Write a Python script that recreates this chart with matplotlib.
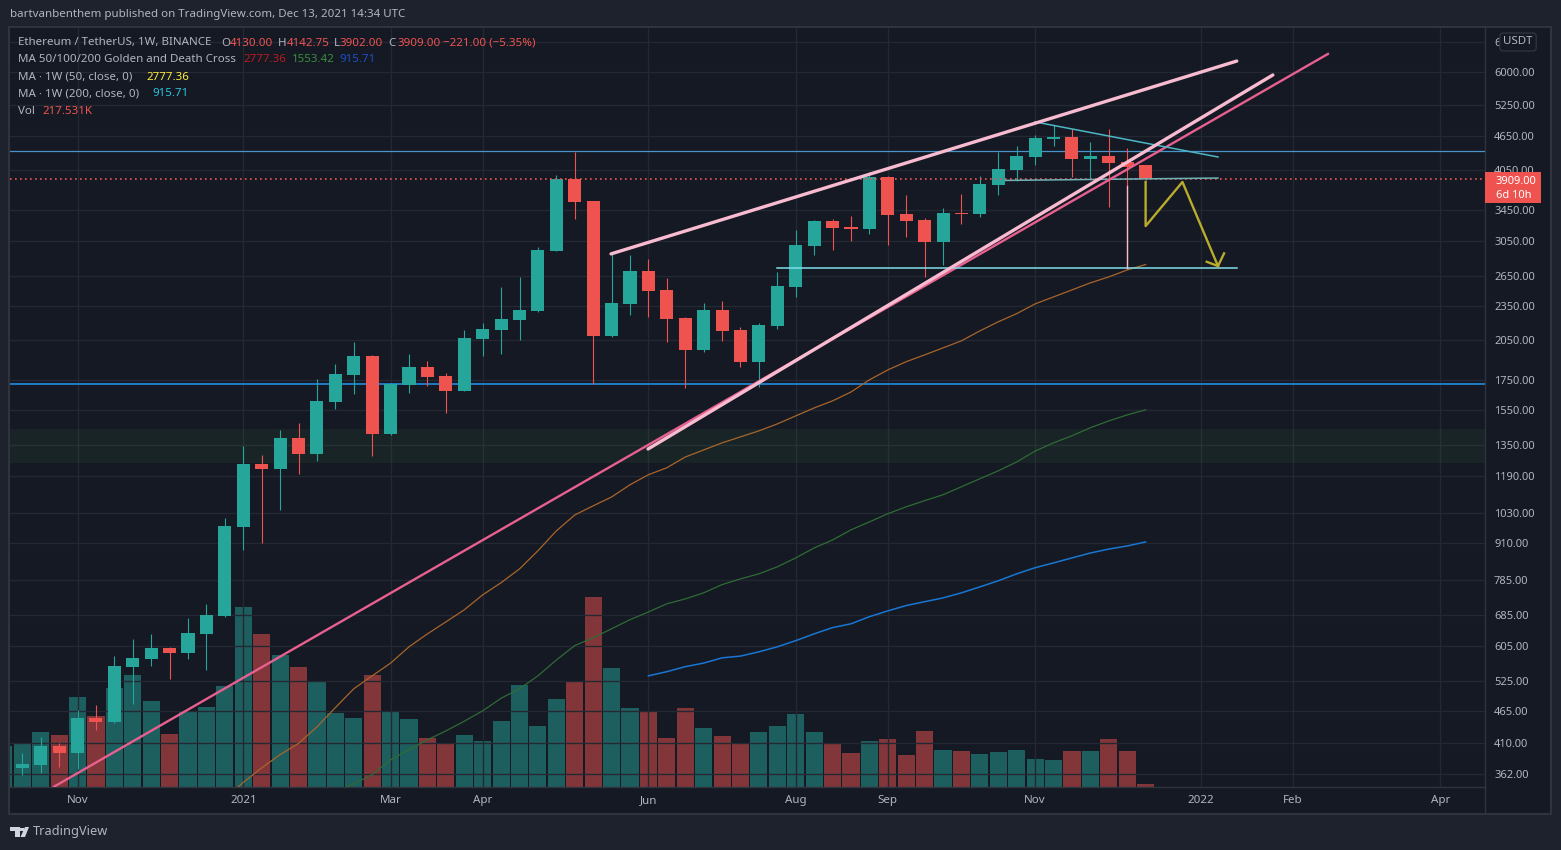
import numpy as np
import matplotlib
matplotlib.use("Agg")
import matplotlib.pyplot as plt
from matplotlib.patches import Rectangle, Polygon
from matplotlib.lines import Line2D

W, H = 1561, 850
FONT = "Noto Sans"
plt.rcParams["font.family"] = [FONT, "DejaVu Sans"]

BG_OUT = "#1e222d"
BG = "#151924"
GRID = "#242833"
EDGE = "#2f333e"
TXT = "#b2b5be"
UP = "#26a69a"
DOWN = "#ef5350"

# weekly candles, index 0 = first full candle on screen
opens = [371, 375, 405, 394, 453, 446, 556, 574, 600, 588, 634, 681, 972, 1251, 1227, 1388,
         1302, 1604, 1786, 1927, 1411, 1716, 1844, 1780, 1675, 2063, 2138, 2226, 2307, 2933,
         3912, 3581, 2089, 2373, 2707, 2509, 2244, 1974, 2316, 2138, 1883, 2173, 2539, 2993,
         3307, 3228, 3203, 3943, 3400, 3320, 3040, 3414, 3400, 3821, 4055, 4271, 4590, 4627,
         4237, 4288, 4188, 4130]
highs = [394, 420, 410, 468, 477, 580, 621, 634, 602, 676, 715, 1008, 1344, 1297, 1434, 1474,
         1758, 1867, 2039, 1935, 1730, 1943, 1889, 1800, 2138, 2200, 2539, 2643, 2980, 3975,
         4356, 3581, 2910, 2887, 2840, 2633, 2252, 2382, 2401, 2164, 2200, 2696, 3190, 3320,
         3333, 3373, 4023, 3959, 3670, 3347, 3483, 3684, 3959, 4356, 4464, 4664, 4855, 4777,
         4535, 4777, 4428, 4142.75]
lows = [361, 364, 372, 369, 432, 444, 479, 558, 530, 574, 549, 679, 887, 912, 1041, 1202,
        1266, 1559, 1656, 1291, 1405, 1662, 1709, 1535, 1675, 1927, 1943, 2055, 2298, 2933,
        3333, 1723, 2081, 2270, 2252, 2039, 1696, 1958, 2047, 1844, 1702, 2147, 2440, 2887,
        2945, 3053, 3139, 3005, 3102, 2643, 2773, 3268, 3360, 3670, 3880, 4137, 4464, 3943,
        3896, 3496, 2740, 3902]
closes = [377, 405, 394, 453, 446, 558, 576, 600, 588, 636, 684, 977, 1251, 1227, 1388, 1302,
          1610, 1793, 1927, 1411, 1723, 1844, 1773, 1675, 2071, 2147, 2235, 2316, 2945, 3912,
          3567, 2089, 2382, 2707, 2499, 2235, 1974, 2316, 2130, 1883, 2181, 2550, 3005, 3307,
          3215, 3203, 3943, 3387, 3307, 3040, 3414, 3400, 3836, 4071, 4288, 4608, 4627, 4237,
          4288, 4170, 4104, 3909]

# volume in thousands, first bar is the clipped one left of candle 0
vol_weeks = list(range(-1, 62))
volumes = [2952, 3096, 3960, 3744, 6480, 5112, 7128, 8064, 6192, 3816, 5400, 5760, 7272, 12960,
           11016, 9504, 8640, 7632, 5328, 4968, 8064, 5400, 4896, 3528, 3096, 3744, 3312, 4752,
           7344, 4392, 6336, 7560, 13680, 8568, 5688, 5400, 3528, 5688, 4248, 3672, 3168, 3960,
           4392, 5256, 3960, 3168, 2448, 3312, 3456, 2304, 4032, 2664, 2592, 2376, 2520, 2664,
           2016, 1944, 2592, 2592, 3456, 2592, 217.531]

ma50_weeks = list(range(11, 62))
ma50 = [328, 350, 371, 391, 409, 437, 472, 509, 536, 564, 602, 634, 665, 698, 741, 778, 822, 884,
        957, 1020, 1058, 1096, 1151, 1198, 1232, 1286, 1323, 1361, 1394, 1428, 1468, 1516, 1565,
        1610, 1668, 1751, 1822, 1883, 1935, 1990, 2047, 2130, 2209, 2282, 2373, 2440, 2509, 2581,
        2643, 2718, 2777.36]
ma100_weeks = list(range(17, 62))
ma100 = [337, 348, 361, 383, 399, 415, 430, 447, 466, 490, 509, 536, 571, 605, 624, 647, 671, 692,
         715, 729, 747, 772, 790, 806, 829, 859, 894, 923, 961, 992, 1025, 1054, 1080, 1106, 1142,
         1179, 1217, 1261, 1317, 1361, 1400, 1446, 1486, 1522, 1553.42]
ma200_weeks = list(range(34, 62))
ma200 = [536, 545, 556, 564, 576, 580, 590, 602, 617, 634, 650, 660, 679, 695, 710, 721, 732, 747,
         765, 784, 806, 826, 842, 859, 876, 890, 901, 915.71]

price_ticks = [6750, 6000, 5250, 4650, 4050, 3450, 3050, 2650, 2350, 2050, 1750, 1550, 1350, 1190,
               1030, 910, 785, 685, 605, 525, 465, 410, 362]
month_weeks = [3, 12, 20, 25, 34, 42, 47, 55, 64, 69, 77]
month_labels = ["Nov", "2021", "Mar", "Apr", "Jun", "Aug", "Sep", "Nov", "2022", "Feb", "Apr"]

# drawings: (week, price) end points
trend_main = ([1.72, 70.90], [344, 6448])
trend_low = ([33.98, 67.91], [1328, 5928])
trend_up = ([31.97, 65.95], [2898, 6267])
support = ([40.97, 65.95], [2740, 2740])
falling = ([54.99, 64.93], [4914, 4270])
flat = ([53.4, 64.93], [3888, 3925])
wick_mark = ([60, 60], [3802, 2740])
path_x = [61, 61, 63, 64.93]
path_y = [3864, 3239, 3864, 2760]
head_x = [64.32, 64.93, 65.26]
head_y = [2808, 2760, 2904]
level_high = 4366
level_low = 1723
zone = (1257, 1439)
last_price = 3909


def fx(px):
    return px / W


def fy(py):
    return 1 - py / H


def ftext(px, py, s, color=TXT, size=8.3, **kw):
    fig.text(fx(px), fy(py), s, color=color, fontsize=size, va="center", **kw)


fig = plt.figure(figsize=(W / 100, H / 100), dpi=100, facecolor=BG_OUT)
fig.add_artist(Rectangle((fx(9), fy(814)), fx(1542), 787 / H, transform=fig.transFigure,
                         facecolor=BG, edgecolor=EDGE, linewidth=1.5))

rect = [fx(10), fy(787), fx(1475), 759 / H]
ax_vol = fig.add_axes(rect, zorder=1, facecolor=BG)
ax = fig.add_axes(rect, zorder=2, facecolor="none")

# volume
xlim = (-0.668, 79.43)
vol_colors = [UP] + [UP if c >= o else DOWN for o, c in zip(opens, closes)]
ax_vol.bar(vol_weeks, volumes, width=0.93, color=vol_colors, alpha=0.5, linewidth=0)
ax_vol.set_xlim(xlim)
ax_vol.set_ylim(0, 54648)
ax_vol.axis("off")

# price panel
ax.set_yscale("log")
ax.set_xlim(xlim)
ax.set_ylim(343.6, 7153)
ax.set_yticks(price_ticks)
ax.set_yticklabels([f"{p:.2f}" for p in price_ticks], fontsize=8, color=TXT)
ax.yaxis.set_minor_locator(matplotlib.ticker.NullLocator())
ax.yaxis.tick_right()
ax.set_xticks(month_weeks)
ax.set_xticklabels(month_labels, fontsize=8.3, color=TXT)
ax.tick_params(axis="both", length=0)
ax.tick_params(axis="y", pad=6.5)
ax.tick_params(axis="x", pad=5.5)
ax.grid(True, color=GRID, linewidth=1)
ax.set_axisbelow(True)
for side in ["top", "left"]:
    ax.spines[side].set_visible(False)
for side in ["right", "bottom"]:
    ax.spines[side].set_color(EDGE)
    ax.spines[side].set_linewidth(1)

ax.axhspan(zone[0], zone[1], color="#4caf50", alpha=0.08, linewidth=0, zorder=1)
ax.axhline(level_high, color="#4a94c9", linewidth=0.9, zorder=3)
ax.axhline(level_low, color="#2196f3", linewidth=1.1, zorder=3)

ax.plot(ma50_weeks, ma50, color="#a9652a", linewidth=0.9, zorder=3)
ax.plot(ma100_weeks, ma100, color="#2f6b35", linewidth=0.9, zorder=3)
ax.plot(ma200_weeks, ma200, color="#1976d2", linewidth=1.1, zorder=3)

for i, (o, h, l, c) in enumerate(zip(opens, highs, lows, closes)):
    col = UP if c >= o else DOWN
    ax.vlines(i, l, h, color=col, linewidth=0.8, zorder=4)
    ax.bar(i, abs(c - o), bottom=min(o, c), width=0.71, color=col, linewidth=0, zorder=5)

ax.axhline(last_price, color=DOWN, linewidth=1.2, linestyle=(0, (1, 2)), zorder=6)

ax.plot(*trend_main, color="#e8608f", linewidth=1.7, zorder=7)
ax.plot(*trend_low, color="#f8bbd0", linewidth=2.4, zorder=8, solid_capstyle="round")
ax.plot(*trend_up, color="#f8bbd0", linewidth=2.4, zorder=8, solid_capstyle="round")
ax.plot(*support, color="#80deea", linewidth=1.1, zorder=7)
ax.plot(*falling, color="#4db6c6", linewidth=1.1, zorder=7)
ax.plot(*flat, color="#6fb3b8", linewidth=1.1, zorder=6)
ax.plot(*wick_mark, color="#f8bbd0", linewidth=1, zorder=7)
ax.plot(path_x, path_y, color="#b9ab2c", linewidth=1.7, zorder=8)
ax.plot(head_x, head_y, color="#b9ab2c", linewidth=1.7, zorder=8)

# header
ftext(10, 15, "bartvanbenthem published on TradingView.com, Dec 13, 2021 14:34 UTC", size=8.3)
legend_rows = [
    (43, [(18, "Ethereum / TetherUS, 1W, BINANCE", TXT), (221, "O", TXT), (230, "4130.00", DOWN),
          (278, "H", TXT), (287, "4142.75", DOWN), (334, "L", TXT), (340, "3902.00", DOWN),
          (388, "C", TXT), (397, "3909.00", DOWN), (443, "−221.00 (−5.35%)", DOWN)]),
    (60, [(18, "MA 50/100/200 Golden and Death Cross", TXT), (243, "2777.36", "#b71c1c"),
          (292, "1553.42", "#388e3c"), (339, "915.71", "#1e4fc8")]),
    (77, [(18, "MA · 1W (50, close, 0)", TXT), (146, "2777.36", "#ffeb3b")]),
    (94, [(18, "MA · 1W (200, close, 0)", TXT), (152, "915.71", "#26c6da")]),
    (111, [(18, "Vol", TXT), (42, "217.531K", DOWN)]),
]
for row_y, parts in legend_rows:
    for px, s, col in parts:
        ftext(px, row_y, s, color=col, zorder=10)

# scale widgets
fig.add_artist(Line2D([fx(1485), fx(1485)], [fy(787), fy(814)], color=EDGE, linewidth=1))
fig.add_artist(Rectangle((fx(1485), fy(203)), fx(56), 31 / H, transform=fig.transFigure,
                         facecolor=DOWN, edgecolor="none", zorder=9))
ftext(1496, 181, "3909.00", color="white", size=8, zorder=10)
ftext(1496, 195, "6d 10h", color="white", size=8, zorder=10)
fig.text(fx(1518), fy(42), "USDT", color=TXT, fontsize=8.3, ha="center", va="center", zorder=10,
         bbox=dict(boxstyle="round,pad=0.3", facecolor=BG, edgecolor=EDGE, linewidth=1))

# logo
logo = "#d1d4dc"
fig.add_artist(Polygon([(fx(10), fy(827)), (fx(19.5), fy(827)), (fx(19.5), fy(837)), (fx(15), fy(837)),
                        (fx(15), fy(831)), (fx(10), fy(831))], transform=fig.transFigure,
                       facecolor=logo, edgecolor="none"))
fig.add_artist(Polygon([(fx(25), fy(827)), (fx(29), fy(827)), (fx(25), fy(837)), (fx(20.5), fy(837))],
                       transform=fig.transFigure, facecolor=logo, edgecolor="none"))
fig.add_artist(Rectangle((fx(20), fy(831)), fx(3.5), 3.5 / H, transform=fig.transFigure,
                         facecolor=logo, edgecolor="none"))
ftext(33, 832, "TradingView", size=9.2, color=TXT)

fig.savefig("out.png", dpi=100, facecolor=BG_OUT)
